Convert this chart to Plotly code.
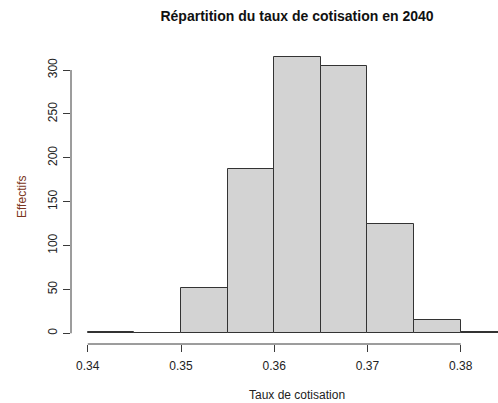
import plotly.graph_objects as go

# Histogram of the 2040 contribution rate (bin edges and counts)
bin_edges = [0.340, 0.345, 0.350, 0.355, 0.360, 0.365, 0.370, 0.375, 0.380, 0.385]
counts = [1, 0, 52, 187, 315, 305, 124, 15, 1]
x_ticks = [0.34, 0.35, 0.36, 0.37, 0.38]
x_tick_labels = ["0.34", "0.35", "0.36", "0.37", "0.38"]
y_ticks = [0, 50, 100, 150, 200, 250, 300]

title_text = "Répartition du taux de cotisation en 2040"
x_title = "Taux de cotisation"
y_title = "Effectifs"

centers = [(a + b) / 2 for a, b in zip(bin_edges[:-1], bin_edges[1:])]
widths = [b - a for a, b in zip(bin_edges[:-1], bin_edges[1:])]

FONT = "Liberation Sans, Arial, sans-serif"
AXIS_COLOR = "#3a3a3a"

fig = go.Figure(
    go.Bar(
        x=centers,
        y=counts,
        width=widths,
        marker=dict(color="#d3d3d3", line=dict(color="#333333", width=1)),
        hoverinfo="x+y",
    )
)

fig.update_layout(
    width=498,
    height=403,
    margin=dict(l=71, r=0, t=46, b=59),
    plot_bgcolor="white",
    paper_bgcolor="white",
    showlegend=False,
    bargap=0,
    font=dict(family=FONT, size=12, color="#222222"),
    title=dict(
        text=title_text,
        font=dict(family=FONT, size=14, color="#111111", weight="bold"),
        xref="container", yref="container",
        x=297 / 498, y=1 - 16 / 403,
        xanchor="center", yanchor="middle",
    ),
    xaxis=dict(
        range=[0.3382, 0.3840],
        tickvals=x_ticks,
        ticktext=x_tick_labels,
        ticks="outside",
        ticklen=7,
        tickwidth=1,
        tickcolor=AXIS_COLOR,
        showline=False,
        showgrid=False,
        zeroline=False,
        ticklabelstandoff=4,
        tickfont=dict(size=12, color="#222222"),
    ),
    yaxis=dict(
        range=[-12.2, 327.4],
        tickvals=y_ticks,
        ticks="outside",
        ticklen=7,
        tickwidth=1,
        tickcolor=AXIS_COLOR,
        tickangle=-90,
        showline=False,
        showgrid=False,
        zeroline=False,
        ticklabelstandoff=1,
        tickfont=dict(size=12, color="#222222"),
    ),
    annotations=[
        dict(
            text=x_title, xref="paper", yref="paper",
            x=(297 - 71) / 427, y=-51 / 298,
            xanchor="center", yanchor="middle", showarrow=False,
            font=dict(family=FONT, size=12, color="#222222"),
        ),
        dict(
            text=y_title, xref="paper", yref="paper",
            x=-49 / 427, y=(344 - 197) / 298,
            xanchor="center", yanchor="middle", showarrow=False,
            textangle=-90,
            font=dict(family=FONT, size=12, color="#7a3520"),
        ),
    ],
    shapes=[
        # bottom axis line spanning the tick range
        dict(type="line", xref="x", yref="paper",
             x0=x_ticks[0], x1=x_ticks[-1], y0=0, y1=0,
             line=dict(color=AXIS_COLOR, width=1)),
        # left axis line spanning the tick range
        dict(type="line", xref="paper", yref="y",
             x0=0, x1=0, y0=y_ticks[0], y1=y_ticks[-1],
             line=dict(color=AXIS_COLOR, width=1)),
    ],
)

fig.write_html("out.html")
